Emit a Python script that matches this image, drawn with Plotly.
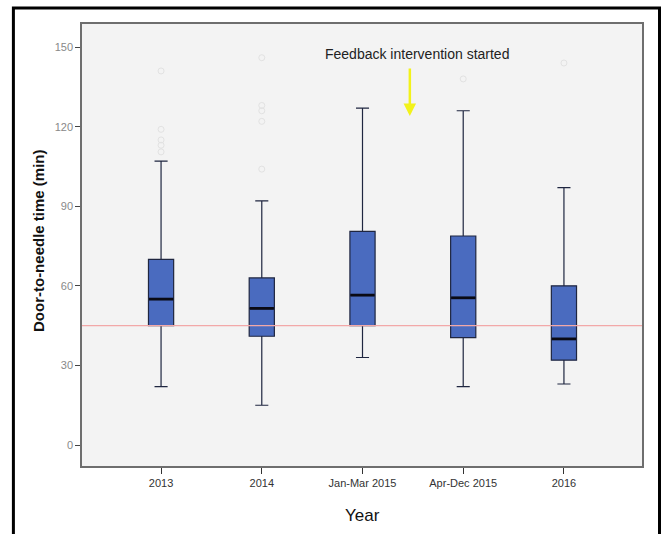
import plotly.graph_objects as go

categories = ["2013", "2014", "Jan-Mar 2015", "Apr-Dec 2015", "2016"]
lower_whisker = [22, 15, 33, 22, 23]
q1 = [45, 41, 45, 40.5, 32]
median = [55, 51.5, 56.5, 55.5, 40]
q3 = [70, 63, 80.5, 78.8, 60]
upper_whisker = [107, 92, 127, 126, 97]

outlier_cat = [0, 0, 0, 0, 0, 1, 1, 1, 1, 1, 3, 4]
outlier_val = [141, 119, 115, 113, 110.5, 146, 128, 126, 122, 104, 138, 144]

target_minutes = 45
y_ticks = [0, 30, 60, 90, 120, 150]

xpos = list(range(len(categories)))
box_w = 0.25

fig = go.Figure()
fig.add_trace(go.Box(
    x=xpos, q1=q1, median=median, q3=q3,
    lowerfence=lower_whisker, upperfence=upper_whisker,
    width=box_w, whiskerwidth=0.52, boxpoints=False,
    fillcolor="#4a6bbf", line=dict(color="#1f2640", width=1.2),
    showlegend=False, hoverinfo="skip"))

mx, my = [], []
for i, m in zip(xpos, median):
    mx += [i - box_w / 2 + 0.005, i + box_w / 2 - 0.005, None]
    my += [m, m, None]
fig.add_trace(go.Scatter(x=mx, y=my, mode="lines",
                         line=dict(color="#0a0a14", width=2.8),
                         showlegend=False, hoverinfo="skip"))

fig.add_trace(go.Scatter(x=outlier_cat, y=outlier_val, mode="markers",
                         marker=dict(symbol="circle-open", size=6,
                                     color="#e2e2e2", line=dict(width=1)),
                         showlegend=False, hoverinfo="skip"))

fig.add_hline(y=target_minutes, line=dict(color="#f2a8a8", width=1.2))

# arrow + text
fig.add_annotation(x=2.47, y=124, ax=2.47, ay=142.5, xref="x", yref="y",
                   axref="x", ayref="y", text="", showarrow=True,
                   arrowhead=2, arrowsize=1, arrowwidth=2.5, arrowcolor="#f2f21a")
fig.add_annotation(x=2.54, y=147.4, xref="x", yref="y",
                   xanchor="center", yanchor="middle",
                   text="Feedback intervention started", showarrow=False,
                   font=dict(family="Arial", size=14, color="#222222"))

# axis titles
fig.add_annotation(x=(38 - 82) / 560, y=0.509, xref="paper", yref="paper",
                   xanchor="center", yanchor="middle",
                   text="<b>Door-to-needle time (min)</b>", textangle=-90,
                   showarrow=False, font=dict(family="Arial", size=15, color="#111111"))
fig.add_annotation(x=0.5, y=(466 - 515) / 442, xref="paper", yref="paper",
                   xanchor="center", yanchor="middle",
                   text="Year", showarrow=False,
                   font=dict(family="Arial", size=17, color="#111111"))

# outer frame
fig.add_shape(type="path", xref="paper", yref="paper",
              path="M -0.1225 -0.2 L -0.1225 1.0362 L 1.03125 1.0362 L 1.03125 -0.2",
              line=dict(color="black", width=3))

fig.update_layout(
    width=664, height=534,
    margin=dict(l=82, r=22, t=24, b=68),
    paper_bgcolor="white", plot_bgcolor="#f3f3f3",
    font=dict(family="Arial"),
    xaxis=dict(range=[-0.785, 4.775], tickvals=xpos, ticktext=categories,
               ticks="outside", ticklen=6, tickcolor="#333333",
               showline=True, linecolor="#6e6e6e", linewidth=1.5, mirror=True,
               showgrid=False, zeroline=False,
               tickfont=dict(family="Arial", size=11, color="#333333")),
    yaxis=dict(range=[-7.9, 158.7], tickvals=y_ticks,
               ticks="outside", ticklen=5, tickcolor="#444444",
               showline=True, linecolor="#6e6e6e", linewidth=1.5, mirror=True,
               showgrid=False, zeroline=False,
               tickfont=dict(family="Arial", size=11, color="#888888")),
)

fig.write_html("out.html", config={"displayModeBar": False},
               post_script="document.body.style.margin='0';document.body.style.overflow='hidden';")
